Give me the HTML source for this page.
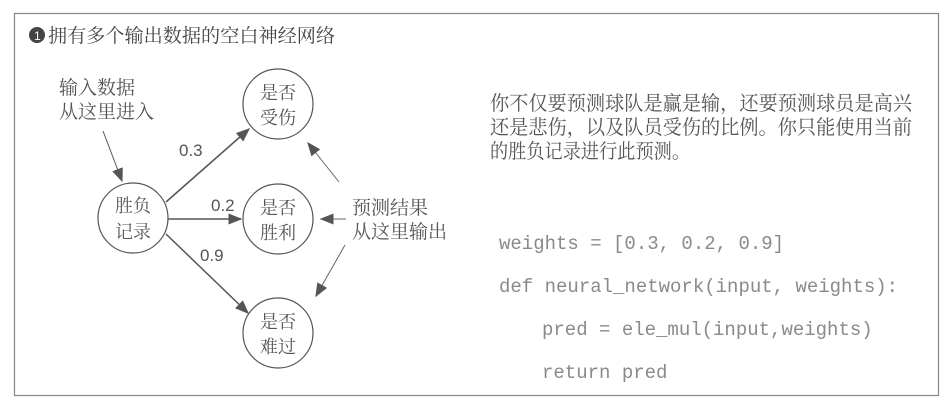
<!DOCTYPE html>
<html><head><meta charset="utf-8"><style>
html,body{margin:0;padding:0;background:#fff;}
svg{display:block;}
text{font-family:"Liberation Sans","Noto Serif CJK SC","Noto Sans CJK SC",sans-serif;fill:#555;}
.cjk{font-family:"Noto Serif CJK SC","Noto Sans CJK SC",serif;}
.mono{font-family:"Liberation Mono",monospace;fill:#8a8a8a;font-size:19px;}
</style></head><body>
<svg width="951" height="405" viewBox="0 0 951 405" xmlns="http://www.w3.org/2000/svg">
<defs>
<marker id="b" viewBox="0 0 10 10" refX="9" refY="5" markerWidth="14" markerHeight="14" orient="auto" markerUnits="userSpaceOnUse"><path d="M0,1 L10,5 L0,9 z" fill="#555"/></marker>
</defs>
<rect x="14.5" y="13.5" width="924" height="382" fill="none" stroke="#888" stroke-width="1.2"/>
<circle cx="37" cy="35" r="8" fill="#444"/><text x="34" y="40" font-size="12" style="fill:#fff">1</text>
<text x="48" y="42" font-size="19" class="cjk" style="fill:#444" textLength="287" lengthAdjust="spacingAndGlyphs">拥有多个输出数据的空白神经网络</text>

<text x="59" y="94" font-size="19" class="cjk">输入数据</text>
<text x="59" y="118" font-size="19" class="cjk">从这里进入</text>
<line x1="103" y1="131" x2="122" y2="181" stroke="#555" stroke-width="1" marker-end="url(#b)"/>

<g fill="none" stroke="#555" stroke-width="1.2">
<circle cx="133" cy="218" r="35"/>
<circle cx="278" cy="104" r="35"/>
<circle cx="278" cy="219" r="35"/>
<circle cx="278" cy="333" r="35"/>
</g>
<text x="115" y="212" font-size="18" class="cjk">胜负</text><text x="115" y="238" font-size="18" class="cjk">记录</text>
<text x="260" y="99" font-size="18" class="cjk">是否</text><text x="260" y="124" font-size="18" class="cjk">受伤</text>
<text x="260" y="214" font-size="18" class="cjk">是否</text><text x="260" y="239" font-size="18" class="cjk">胜利</text>
<text x="260" y="328" font-size="18" class="cjk">是否</text><text x="260" y="353" font-size="18" class="cjk">难过</text>

<g stroke="#555" stroke-width="1.5">
<line x1="166" y1="202" x2="249" y2="129" marker-end="url(#b)"/>
<line x1="168" y1="219" x2="241" y2="219" marker-end="url(#b)"/>
<line x1="166" y1="234" x2="248" y2="313" marker-end="url(#b)"/>
</g>
<text x="179" y="156" font-size="17">0.3</text>
<text x="211" y="211" font-size="17">0.2</text>
<text x="200" y="261" font-size="17">0.9</text>

<g stroke="#666" stroke-width="1">
<line x1="339" y1="182" x2="308" y2="143" marker-end="url(#b)"/>
<line x1="346" y1="219" x2="321" y2="219" marker-end="url(#b)"/>
<line x1="345" y1="245" x2="316" y2="296" marker-end="url(#b)"/>
</g>
<text x="352" y="214" font-size="19" class="cjk">预测结果</text>
<text x="352" y="238" font-size="19" class="cjk">从这里输出</text>

<text x="490" y="110" font-size="20" class="cjk" textLength="422" lengthAdjust="spacingAndGlyphs">你不仅要预测球队是赢是输，还要预测球员是高兴</text>
<text x="490" y="134" font-size="20" class="cjk" textLength="422" lengthAdjust="spacingAndGlyphs">还是悲伤，以及队员受伤的比例。你只能使用当前</text>
<text x="490" y="158" font-size="20" class="cjk" textLength="200" lengthAdjust="spacingAndGlyphs">的胜负记录进行此预测。</text>

<text x="499" y="249" class="mono" xml:space="preserve">weights = [0.3, 0.2, 0.9]</text>
<text x="499" y="292" class="mono" xml:space="preserve">def neural_network(input, weights):</text>
<text x="542" y="335" class="mono" xml:space="preserve">pred = ele_mul(input,weights)</text>
<text x="542" y="378" class="mono" xml:space="preserve">return pred</text>
</svg>
</body></html>
